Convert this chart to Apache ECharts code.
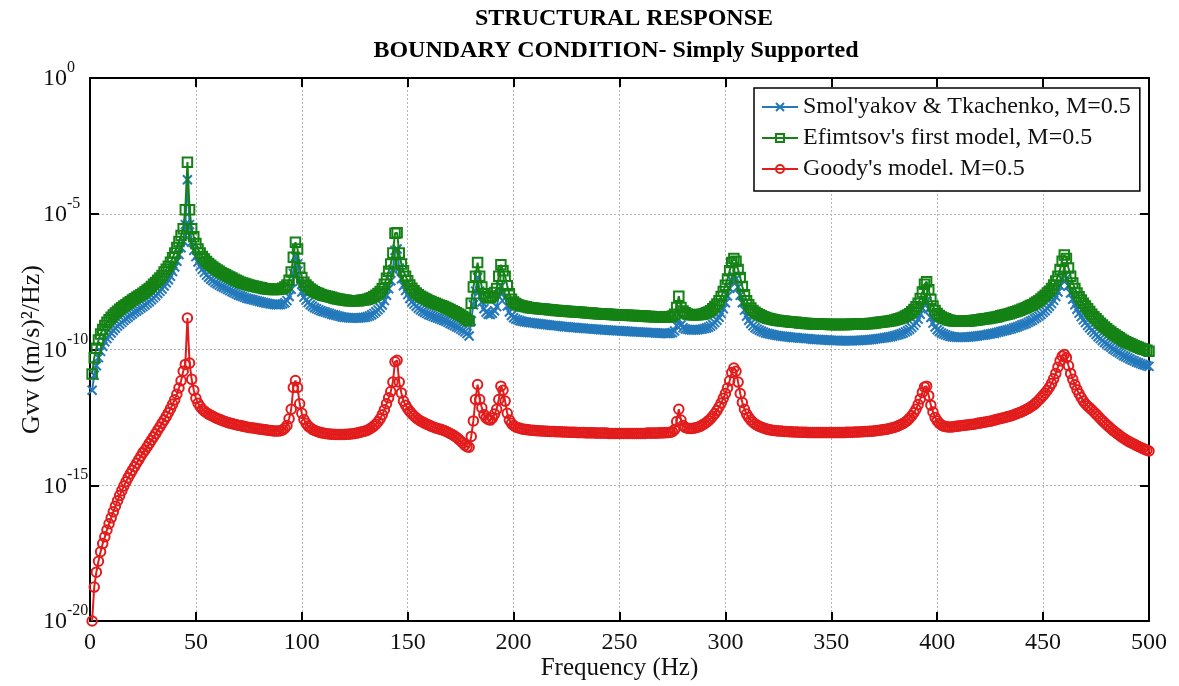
<!DOCTYPE html>
<html>
<head>
<meta charset="utf-8">
<title>Structural response</title>
<script src="https://cdn.jsdelivr.net/npm/echarts@6/dist/echarts.min.js"></script>
<style>
  html, body { margin: 0; padding: 0; background: #fff; }
  #chart { width: 1179px; height: 686px; }
</style>
</head>
<body>
<div id="chart"></div>
<script>
// Frequency grid: samples start at 1 Hz with 1 Hz spacing (500 samples).
const FREQ_START_HZ = 1;
const FREQ_STEP_HZ = 1;

// log10 of Gvv ((m/s)^2/Hz), one value per frequency sample.
const smolyakovLog = [
  -11.5,-10.95,-10.6,-10.3,-10.07,-9.88,-9.72,-9.6,-9.49,-9.39,
  -9.3,-9.22,-9.14,-9.07,-9.0,-8.93,-8.87,-8.81,-8.75,-8.69,
  -8.63,-8.58,-8.53,-8.47,-8.42,-8.36,-8.3,-8.24,-8.17,-8.1,
  -8.02,-7.94,-7.86,-7.77,-7.66,-7.54,-7.43,-7.3,-7.13,-6.96,
  -6.75,-6.5,-6.25,-6.0,-5.4,-3.75,-5.4,-6.05,-6.35,-6.58,
  -6.78,-6.93,-7.05,-7.16,-7.26,-7.34,-7.41,-7.47,-7.53,-7.58,
  -7.63,-7.67,-7.71,-7.75,-7.79,-7.83,-7.87,-7.91,-7.95,-7.99,
  -8.02,-8.05,-8.08,-8.11,-8.13,-8.15,-8.17,-8.19,-8.21,-8.23,
  -8.25,-8.27,-8.29,-8.3,-8.32,-8.33,-8.34,-8.35,-8.35,-8.34,
  -8.32,-8.28,-8.2,-8.05,-7.78,-7.2,-6.57,-6.85,-7.5,-7.88,
  -8.07,-8.18,-8.27,-8.35,-8.41,-8.46,-8.5,-8.54,-8.57,-8.6,
  -8.62,-8.65,-8.67,-8.7,-8.72,-8.74,-8.76,-8.78,-8.8,-8.81,
  -8.82,-8.83,-8.84,-8.84,-8.84,-8.84,-8.84,-8.83,-8.82,-8.81,
  -8.79,-8.76,-8.72,-8.67,-8.61,-8.54,-8.46,-8.36,-8.2,-8.0,
  -7.76,-7.47,-7.05,-6.35,-6.3,-7.0,-7.4,-7.65,-7.83,-7.98,
  -8.12,-8.24,-8.33,-8.41,-8.48,-8.54,-8.59,-8.64,-8.68,-8.72,
  -8.75,-8.78,-8.81,-8.84,-8.87,-8.9,-8.93,-8.96,-9.0,-9.04,
  -9.08,-9.12,-9.16,-9.2,-9.25,-9.3,-9.35,-9.41,-9.5,-8.95,
  -8.35,-7.85,-7.35,-7.85,-8.25,-8.5,-8.63,-8.7,-8.71,-8.67,
  -8.57,-8.42,-8.05,-7.68,-7.9,-8.1,-8.4,-8.62,-8.75,-8.83,
  -8.88,-8.91,-8.94,-8.96,-8.98,-8.99,-9.0,-9.01,-9.02,-9.03,
  -9.04,-9.05,-9.06,-9.07,-9.08,-9.09,-9.1,-9.11,-9.12,-9.12,
  -9.13,-9.14,-9.15,-9.16,-9.16,-9.17,-9.18,-9.19,-9.19,-9.2,
  -9.21,-9.21,-9.22,-9.23,-9.23,-9.24,-9.24,-9.25,-9.25,-9.26,
  -9.27,-9.27,-9.28,-9.28,-9.29,-9.29,-9.3,-9.3,-9.31,-9.31,
  -9.32,-9.32,-9.33,-9.33,-9.34,-9.34,-9.35,-9.35,-9.35,-9.36,
  -9.36,-9.37,-9.37,-9.38,-9.38,-9.38,-9.39,-9.39,-9.4,-9.4,
  -9.4,-9.41,-9.41,-9.4,-9.38,-9.32,-9.12,-8.9,-9.1,-9.2,
  -9.24,-9.26,-9.27,-9.28,-9.28,-9.28,-9.27,-9.26,-9.25,-9.23,
  -9.21,-9.18,-9.14,-9.08,-9.01,-8.92,-8.81,-8.67,-8.5,-8.28,
  -8.03,-7.75,-7.45,-7.3,-7.4,-7.7,-8.0,-8.28,-8.55,-8.77,
  -8.92,-9.04,-9.13,-9.2,-9.25,-9.29,-9.33,-9.36,-9.39,-9.41,
  -9.43,-9.45,-9.46,-9.48,-9.49,-9.5,-9.51,-9.52,-9.53,-9.54,
  -9.55,-9.56,-9.56,-9.57,-9.58,-9.58,-9.59,-9.6,-9.6,-9.61,
  -9.62,-9.62,-9.63,-9.63,-9.64,-9.64,-9.65,-9.65,-9.66,-9.66,
  -9.67,-9.67,-9.67,-9.68,-9.68,-9.68,-9.68,-9.68,-9.68,-9.68,
  -9.67,-9.67,-9.67,-9.66,-9.66,-9.65,-9.65,-9.64,-9.63,-9.62,
  -9.61,-9.6,-9.59,-9.58,-9.57,-9.56,-9.54,-9.53,-9.51,-9.49,
  -9.47,-9.45,-9.42,-9.39,-9.35,-9.31,-9.26,-9.19,-9.11,-9.01,
  -8.88,-8.7,-8.48,-8.25,-8.22,-8.5,-8.82,-9.03,-9.17,-9.27,
  -9.34,-9.39,-9.43,-9.46,-9.49,-9.51,-9.53,-9.54,-9.55,-9.55,
  -9.55,-9.55,-9.55,-9.54,-9.54,-9.53,-9.52,-9.51,-9.5,-9.49,
  -9.48,-9.47,-9.46,-9.44,-9.43,-9.41,-9.4,-9.38,-9.36,-9.34,
  -9.32,-9.3,-9.28,-9.26,-9.24,-9.21,-9.19,-9.16,-9.13,-9.1,
  -9.07,-9.04,-9.0,-8.96,-8.92,-8.87,-8.82,-8.77,-8.71,-8.64,
  -8.57,-8.49,-8.41,-8.31,-8.19,-8.05,-7.88,-7.66,-7.4,-7.3,
  -7.38,-7.65,-7.92,-8.15,-8.35,-8.52,-8.66,-8.79,-8.91,-9.01,
  -9.11,-9.2,-9.29,-9.37,-9.45,-9.53,-9.6,-9.67,-9.74,-9.8,
  -9.86,-9.92,-9.98,-10.03,-10.08,-10.13,-10.18,-10.23,-10.27,-10.31,
  -10.35,-10.39,-10.42,-10.46,-10.49,-10.52,-10.55,-10.57,-10.6,-10.62
];

const efimtsovLog = [
  -10.9,-10.3,-9.95,-9.65,-9.43,-9.26,-9.12,-9.0,-8.9,-8.81,
  -8.73,-8.66,-8.59,-8.52,-8.46,-8.4,-8.35,-8.29,-8.24,-8.18,
  -8.13,-8.08,-8.03,-7.98,-7.93,-7.87,-7.81,-7.75,-7.68,-7.6,
  -7.53,-7.45,-7.37,-7.27,-7.15,-7.04,-6.93,-6.79,-6.62,-6.45,
  -6.24,-6.02,-5.8,-5.55,-4.85,-3.1,-4.85,-5.55,-5.85,-6.1,
  -6.3,-6.45,-6.57,-6.67,-6.76,-6.83,-6.9,-6.96,-7.02,-7.07,
  -7.12,-7.17,-7.21,-7.25,-7.29,-7.33,-7.37,-7.41,-7.45,-7.49,
  -7.52,-7.55,-7.57,-7.6,-7.62,-7.64,-7.66,-7.68,-7.7,-7.72,
  -7.73,-7.75,-7.76,-7.77,-7.78,-7.79,-7.79,-7.79,-7.78,-7.77,
  -7.74,-7.7,-7.62,-7.45,-7.15,-6.6,-6.05,-6.3,-7.0,-7.35,
  -7.52,-7.62,-7.7,-7.77,-7.82,-7.87,-7.91,-7.94,-7.97,-8.0,
  -8.02,-8.04,-8.06,-8.08,-8.1,-8.12,-8.14,-8.15,-8.17,-8.18,
  -8.19,-8.2,-8.2,-8.2,-8.2,-8.2,-8.2,-8.19,-8.18,-8.17,
  -8.15,-8.12,-8.09,-8.05,-8.0,-7.94,-7.86,-7.76,-7.6,-7.38,
  -7.12,-6.85,-6.45,-5.72,-5.7,-6.45,-6.85,-7.1,-7.3,-7.47,
  -7.62,-7.74,-7.84,-7.92,-7.98,-8.04,-8.08,-8.12,-8.16,-8.2,
  -8.23,-8.27,-8.3,-8.33,-8.36,-8.39,-8.42,-8.45,-8.49,-8.53,
  -8.57,-8.61,-8.65,-8.69,-8.73,-8.78,-8.84,-8.9,-8.95,-8.3,
  -7.7,-7.3,-6.8,-7.3,-7.7,-7.95,-8.05,-8.09,-8.09,-8.03,
  -7.9,-7.75,-7.3,-6.88,-7.1,-7.3,-7.65,-7.95,-8.15,-8.25,
  -8.31,-8.35,-8.38,-8.4,-8.42,-8.43,-8.45,-8.46,-8.47,-8.48,
  -8.49,-8.5,-8.5,-8.51,-8.52,-8.53,-8.54,-8.54,-8.55,-8.56,
  -8.56,-8.57,-8.58,-8.58,-8.59,-8.6,-8.6,-8.61,-8.62,-8.62,
  -8.63,-8.63,-8.64,-8.65,-8.65,-8.66,-8.66,-8.67,-8.67,-8.68,
  -8.68,-8.69,-8.69,-8.7,-8.7,-8.71,-8.71,-8.72,-8.72,-8.73,
  -8.73,-8.73,-8.74,-8.74,-8.75,-8.75,-8.75,-8.76,-8.76,-8.77,
  -8.77,-8.77,-8.78,-8.78,-8.78,-8.79,-8.79,-8.79,-8.8,-8.8,
  -8.8,-8.8,-8.8,-8.79,-8.77,-8.7,-8.45,-8.04,-8.45,-8.58,
  -8.65,-8.69,-8.71,-8.72,-8.72,-8.72,-8.72,-8.71,-8.7,-8.68,
  -8.65,-8.62,-8.57,-8.5,-8.42,-8.32,-8.2,-8.05,-7.86,-7.63,
  -7.4,-7.1,-6.8,-6.65,-6.75,-7.05,-7.35,-7.68,-7.98,-8.2,
  -8.35,-8.47,-8.56,-8.63,-8.68,-8.72,-8.76,-8.79,-8.82,-8.85,
  -8.87,-8.89,-8.9,-8.92,-8.93,-8.94,-8.95,-8.96,-8.97,-8.98,
  -8.99,-9.0,-9.0,-9.01,-9.02,-9.02,-9.03,-9.04,-9.04,-9.05,
  -9.05,-9.06,-9.06,-9.06,-9.07,-9.07,-9.07,-9.07,-9.08,-9.08,
  -9.08,-9.08,-9.08,-9.08,-9.08,-9.08,-9.08,-9.08,-9.07,-9.07,
  -9.07,-9.07,-9.06,-9.06,-9.06,-9.05,-9.05,-9.04,-9.04,-9.03,
  -9.02,-9.01,-9.0,-8.99,-8.98,-8.97,-8.96,-8.94,-8.93,-8.91,
  -8.89,-8.87,-8.84,-8.81,-8.77,-8.73,-8.68,-8.61,-8.53,-8.43,
  -8.3,-8.12,-7.88,-7.6,-7.5,-7.8,-8.15,-8.4,-8.56,-8.67,
  -8.75,-8.8,-8.84,-8.87,-8.9,-8.92,-8.94,-8.95,-8.96,-8.96,
  -8.96,-8.96,-8.96,-8.95,-8.95,-8.94,-8.93,-8.92,-8.91,-8.9,
  -8.89,-8.88,-8.87,-8.86,-8.84,-8.83,-8.81,-8.8,-8.78,-8.76,
  -8.74,-8.72,-8.7,-8.68,-8.66,-8.63,-8.61,-8.58,-8.55,-8.52,
  -8.49,-8.46,-8.42,-8.38,-8.35,-8.3,-8.25,-8.2,-8.14,-8.07,
  -8.0,-7.92,-7.85,-7.75,-7.62,-7.48,-7.3,-7.05,-6.75,-6.52,
  -6.65,-7.0,-7.3,-7.55,-7.75,-7.92,-8.06,-8.18,-8.3,-8.4,
  -8.5,-8.6,-8.7,-8.79,-8.87,-8.95,-9.03,-9.1,-9.17,-9.24,
  -9.3,-9.36,-9.42,-9.47,-9.52,-9.57,-9.62,-9.67,-9.71,-9.75,
  -9.79,-9.82,-9.86,-9.89,-9.92,-9.95,-9.98,-10.0,-10.03,-10.06
];

const goodyLog = [
  -20,-18.75,-18.2,-17.8,-17.45,-17.15,-16.9,-16.65,-16.42,-16.2,
  -15.98,-15.77,-15.57,-15.38,-15.2,-15.03,-14.87,-14.72,-14.58,-14.45,
  -14.32,-14.19,-14.06,-13.93,-13.8,-13.7,-13.58,-13.46,-13.34,-13.22,
  -13.1,-12.97,-12.85,-12.72,-12.6,-12.47,-12.33,-12.18,-12.02,-11.85,
  -11.65,-11.42,-11.15,-10.8,-10.55,-8.84,-10.5,-11.1,-11.5,-11.8,
  -11.98,-12.1,-12.2,-12.27,-12.33,-12.38,-12.42,-12.46,-12.5,-12.54,
  -12.57,-12.6,-12.63,-12.66,-12.69,-12.71,-12.73,-12.75,-12.77,-12.79,
  -12.8,-12.82,-12.84,-12.85,-12.87,-12.88,-12.89,-12.9,-12.92,-12.93,
  -12.94,-12.95,-12.96,-12.97,-12.98,-12.99,-13.0,-13.0,-13.0,-12.99,
  -12.96,-12.9,-12.8,-12.55,-12.2,-11.4,-11.14,-11.4,-12.0,-12.35,
  -12.58,-12.72,-12.82,-12.88,-12.94,-12.98,-13.01,-13.04,-13.06,-13.08,
  -13.09,-13.1,-13.11,-13.12,-13.12,-13.13,-13.13,-13.13,-13.13,-13.13,
  -13.12,-13.12,-13.11,-13.1,-13.09,-13.08,-13.06,-13.04,-13.02,-13.0,
  -12.97,-12.93,-12.88,-12.82,-12.75,-12.66,-12.55,-12.4,-12.22,-12.0,
  -11.78,-11.55,-11.2,-10.45,-10.4,-11.2,-11.6,-11.9,-12.05,-12.18,
  -12.28,-12.37,-12.45,-12.52,-12.58,-12.63,-12.67,-12.71,-12.75,-12.78,
  -12.82,-12.85,-12.88,-12.91,-12.93,-12.95,-12.98,-13.01,-13.05,-13.09,
  -13.13,-13.18,-13.23,-13.3,-13.37,-13.44,-13.52,-13.58,-13.6,-13.2,
  -12.63,-11.84,-11.29,-11.84,-12.15,-12.4,-12.52,-12.58,-12.6,-12.52,
  -12.38,-12.2,-11.84,-11.35,-11.5,-11.9,-12.35,-12.6,-12.72,-12.8,
  -12.85,-12.88,-12.9,-12.93,-12.94,-12.95,-12.96,-12.97,-12.97,-12.98,
  -12.99,-12.99,-13.0,-13.0,-13.01,-13.01,-13.02,-13.02,-13.02,-13.03,
  -13.03,-13.03,-13.04,-13.04,-13.04,-13.05,-13.05,-13.05,-13.05,-13.06,
  -13.06,-13.06,-13.06,-13.07,-13.07,-13.07,-13.07,-13.07,-13.08,-13.08,
  -13.08,-13.08,-13.08,-13.08,-13.09,-13.09,-13.09,-13.09,-13.09,-13.09,
  -13.09,-13.09,-13.09,-13.09,-13.09,-13.09,-13.09,-13.09,-13.09,-13.09,
  -13.09,-13.09,-13.08,-13.08,-13.08,-13.08,-13.08,-13.08,-13.07,-13.07,
  -13.07,-13.06,-13.06,-13.05,-13.03,-12.95,-12.65,-12.2,-12.6,-12.8,
  -12.87,-12.9,-12.91,-12.91,-12.9,-12.88,-12.86,-12.83,-12.79,-12.74,
  -12.69,-12.62,-12.55,-12.46,-12.36,-12.25,-12.12,-11.97,-11.8,-11.62,
  -11.42,-11.15,-10.85,-10.68,-10.8,-11.2,-11.62,-11.95,-12.2,-12.38,
  -12.5,-12.6,-12.68,-12.74,-12.79,-12.83,-12.86,-12.89,-12.92,-12.94,
  -12.96,-12.97,-12.98,-12.99,-13.0,-13.0,-13.01,-13.02,-13.02,-13.03,
  -13.03,-13.04,-13.04,-13.04,-13.05,-13.05,-13.05,-13.05,-13.06,-13.06,
  -13.06,-13.06,-13.06,-13.06,-13.06,-13.06,-13.06,-13.06,-13.06,-13.06,
  -13.06,-13.06,-13.06,-13.06,-13.06,-13.06,-13.05,-13.05,-13.05,-13.05,
  -13.04,-13.04,-13.04,-13.03,-13.03,-13.02,-13.02,-13.01,-13.01,-13.0,
  -12.99,-12.98,-12.97,-12.96,-12.95,-12.94,-12.92,-12.9,-12.88,-12.86,
  -12.83,-12.8,-12.76,-12.72,-12.67,-12.61,-12.53,-12.44,-12.33,-12.2,
  -12.03,-11.82,-11.58,-11.38,-11.35,-11.7,-12.05,-12.3,-12.5,-12.63,
  -12.72,-12.78,-12.82,-12.84,-12.85,-12.85,-12.85,-12.84,-12.83,-12.82,
  -12.81,-12.8,-12.79,-12.78,-12.77,-12.76,-12.75,-12.74,-12.72,-12.71,
  -12.7,-12.68,-12.67,-12.65,-12.64,-12.62,-12.6,-12.58,-12.56,-12.54,
  -12.52,-12.5,-12.48,-12.46,-12.44,-12.41,-12.38,-12.35,-12.32,-12.29,
  -12.25,-12.21,-12.17,-12.12,-12.07,-12.01,-11.94,-11.86,-11.78,-11.69,
  -11.6,-11.5,-11.39,-11.25,-11.08,-10.88,-10.65,-10.42,-10.25,-10.18,
  -10.3,-10.6,-10.88,-11.1,-11.3,-11.48,-11.63,-11.77,-11.9,-12.0,
  -12.08,-12.15,-12.22,-12.3,-12.38,-12.46,-12.54,-12.62,-12.7,-12.77,
  -12.84,-12.91,-12.98,-13.04,-13.1,-13.16,-13.22,-13.27,-13.32,-13.37,
  -13.41,-13.45,-13.49,-13.53,-13.57,-13.61,-13.64,-13.68,-13.71,-13.74
];

const seriesNames = [
  "Smol'yakov & Tkachenko, M=0.5",
  "Efimtsov's first model, M=0.5",
  "Goody's model. M=0.5"
];
const seriesColors = ['#2479bb', '#148214', '#e21c1c'];

const titleLines = ['STRUCTURAL RESPONSE', 'BOUNDARY CONDITION- Simply Supported'];
const xAxisTitle = 'Frequency (Hz)';
const yAxisTitle = 'Gvv ((m/s)\u00B2/Hz)';

const SERIF = "'Liberation Serif', 'Times New Roman', Times, serif";

// Pair each log10 value with its frequency sample.
function toPairs(values) {
  return values.map((v, i) => [FREQ_START_HZ + i * FREQ_STEP_HZ, v]);
}

const frameAxis = {
  axisLine: { show: true, onZero: false, lineStyle: { color: '#000', width: 2 } },
  axisTick: { show: true, inside: true, length: 9, lineStyle: { color: '#000', width: 2 } }
};

const gridLine = { show: true, lineStyle: { color: '#b4b4b4', width: 1, type: [2, 2] } };

// x marks, hollow squares and hollow circles.
const markerSymbols = ['path://M0,0L10,10M10,0L0,10', 'rect', 'circle'];
const markerSizes = [9, 9.5, 9.5];
const dataSets = [smolyakovLog, efimtsovLog, goodyLog];

const chart = echarts.init(document.getElementById('chart'), null, { renderer: 'canvas' });

chart.setOption({
  animation: false,
  backgroundColor: '#fff',
  graphic: [
    {
      type: 'text', x: 624, y: 19, silent: true,
      style: {
        text: titleLines[0], fill: '#000',
        fontFamily: SERIF, fontSize: 24, fontWeight: 'bold',
        align: 'center', verticalAlign: 'middle'
      }
    },
    {
      type: 'text', x: 616, y: 51, silent: true,
      style: {
        text: titleLines[1], fill: '#000',
        fontFamily: SERIF, fontSize: 24, fontWeight: 'bold',
        align: 'center', verticalAlign: 'middle'
      }
    }
  ],
  grid: { left: 90, right: 30, top: 78, bottom: 64, containLabel: false },
  legend: {
    orient: 'vertical',
    left: 754,
    top: 88,
    itemWidth: 36,
    itemHeight: 10,
    itemGap: 7,
    padding: [7, 9, 10, 7],
    borderColor: '#000',
    borderWidth: 1.5,
    backgroundColor: '#fff',
    selectedMode: false,
    textStyle: { fontFamily: SERIF, fontSize: 24, color: '#111' },
    data: seriesNames
  },
  xAxis: [
    Object.assign({
      type: 'value', position: 'bottom', min: 0, max: 500, interval: 50,
      axisLabel: { fontFamily: SERIF, fontSize: 24, color: '#111', margin: 10 },
      splitLine: gridLine,
      name: xAxisTitle, nameLocation: 'middle', nameGap: 35, nameMoveOverlap: false,
      nameTextStyle: { fontFamily: SERIF, fontSize: 25, color: '#111' }
    }, frameAxis),
    Object.assign({
      type: 'value', position: 'top', min: 0, max: 500, interval: 50,
      axisLabel: { show: false }, splitLine: { show: false }
    }, frameAxis)
  ],
  yAxis: [
    Object.assign({
      type: 'value', position: 'left', min: -20, max: 0, interval: 5,
      axisLabel: {
        margin: 47,
        align: 'left',
        formatter: function (v) { return '{b|10}{s|' + v + '}'; },
        rich: {
          b: { fontFamily: SERIF, fontSize: 24, color: '#111', lineHeight: 26, verticalAlign: 'bottom' },
          s: { fontFamily: SERIF, fontSize: 16, color: '#111', lineHeight: 16, padding: [0, 0, 15, 0], verticalAlign: 'bottom' }
        }
      },
      splitLine: gridLine,
      name: yAxisTitle, nameLocation: 'middle', nameGap: 45, nameMoveOverlap: false,
      nameTextStyle: { fontFamily: SERIF, fontSize: 26, color: '#111' }
    }, frameAxis),
    Object.assign({
      type: 'value', position: 'right', min: -20, max: 0, interval: 5,
      axisLabel: { show: false }, splitLine: { show: false }
    }, frameAxis)
  ],
  series: dataSets.map((values, k) => ({
    name: seriesNames[k],
    type: 'line',
    xAxisIndex: 0,
    yAxisIndex: 0,
    data: toPairs(values),
    clip: false,
    silent: true,
    symbol: markerSymbols[k],
    symbolSize: markerSizes[k],
    showSymbol: true,
    showAllSymbol: true,
    symbolKeepAspect: true,
    lineStyle: { color: seriesColors[k], width: 2 },
    itemStyle: { color: 'rgba(255,255,255,0)', borderColor: seriesColors[k], borderWidth: 2 },
    emphasis: { disabled: true },
    z: 2 + k
  }))
});
</script>
</body>
</html>
